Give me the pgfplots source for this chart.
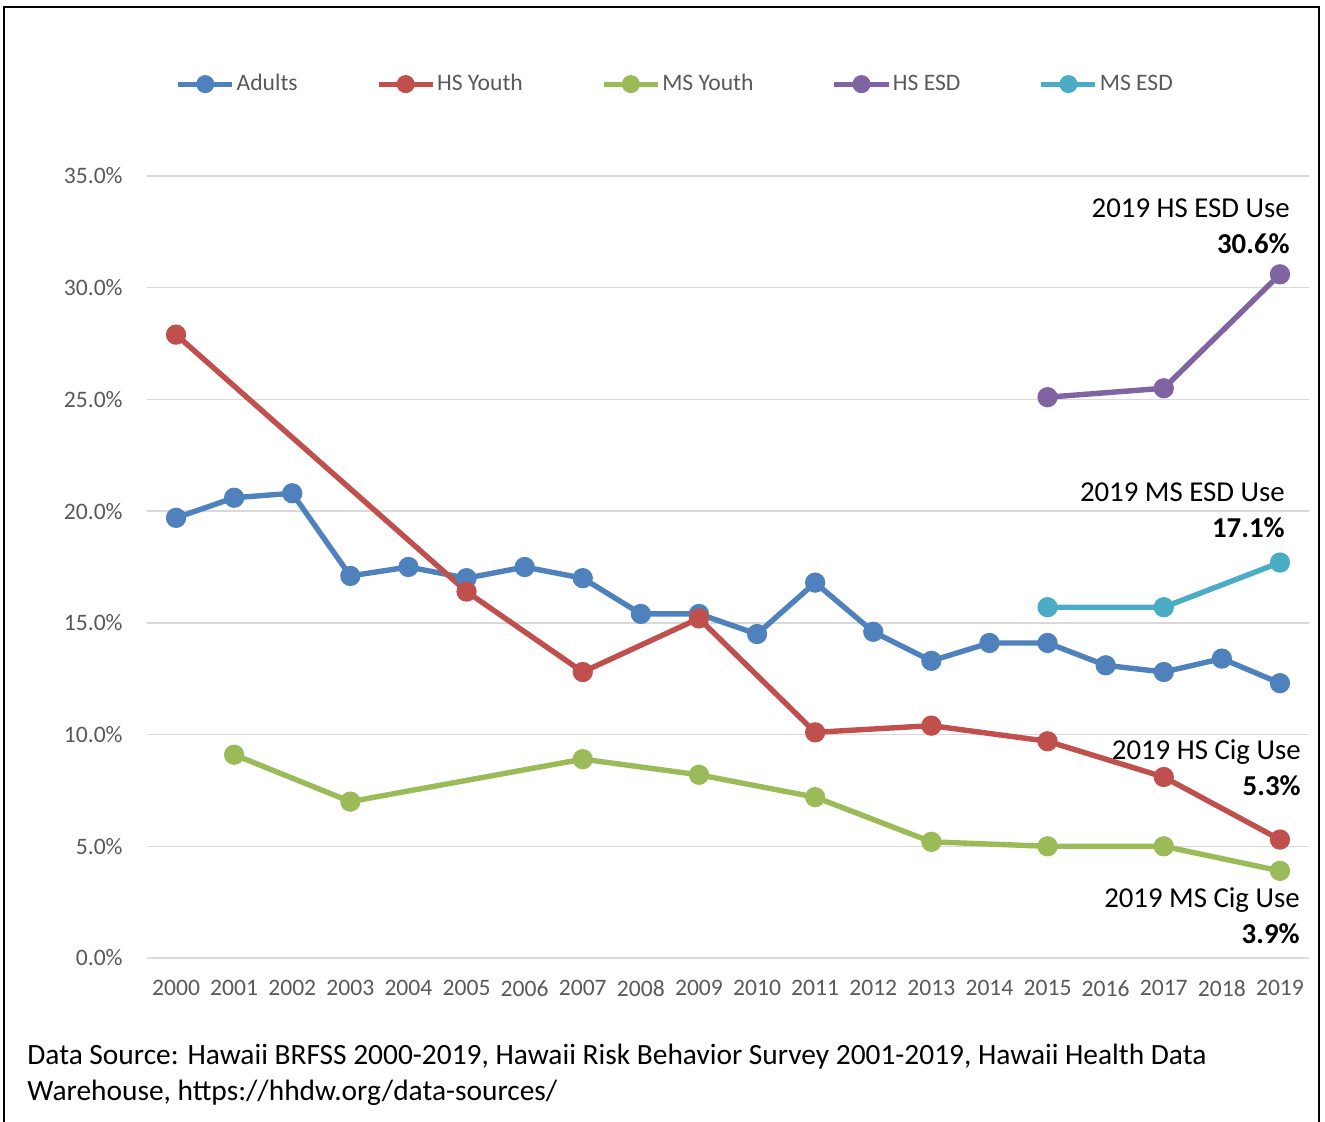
\documentclass[border=0pt]{standalone}
\usepackage{pgfplots}
\pgfplotsset{compat=1.18}
\usepackage{fontspec}
\setmainfont{Carlito}
\definecolor{cA}{HTML}{4F81BD}
\definecolor{cB}{HTML}{C0504D}
\definecolor{cC}{HTML}{9BBB59}
\definecolor{cD}{HTML}{8064A2}
\definecolor{cE}{HTML}{4BACC6}
\definecolor{tickgray}{HTML}{595959}
\definecolor{gridgray}{HTML}{D9D9D9}
\begin{document}
\begin{tikzpicture}
\useasboundingbox (0,0) rectangle (662.5pt,560.5pt);
\draw[line width=1.2pt] (2pt,-2pt) -- (2pt,557pt) -- (659.5pt,557pt) -- (659.5pt,-2pt);
\begin{axis}[
  at={(73.5pt,81.5pt)}, anchor=south west,
  scale only axis, width=581pt, height=391pt,
  xmin=1999.5, xmax=2019.5, ymin=0, ymax=35,
  axis lines=none,
  ymajorgrids, grid style={gridgray, line width=0.75pt},
  xtick={2000,2001,...,2019},
  ytick={0,5,...,35},
  xticklabel style={/pgf/number format/1000 sep={}},
  x tick label style={font=\fontsize{11.8}{14}\selectfont, color=tickgray, inner sep=0pt, anchor=north, yshift=-11pt},
  y tick label style={font=\fontsize{11.8}{14}\selectfont, color=tickgray, inner sep=0pt, anchor=east, xshift=-12pt},
  yticklabel={\pgfmathprintnumber[fixed,fixed zerofill,precision=1]{\tick}\%},
  /pgf/number format/assume math mode=true,
  tick style={draw=none},
  hide x axis=false, hide y axis=false,
  axis line style={draw=none},
  every axis plot/.append style={line width=2.7pt, mark=*, mark size=3.7pt},
  legend columns=5,
  legend style={at={(0.0245,1.1175)}, anchor=west, draw=none, fill=none, inner sep=0pt,
    font=\fontsize{11.8}{14}\selectfont, text=tickgray,
    nodes={inner sep=1pt},
    /tikz/every even column/.append style={column sep=38.3pt}},
  legend image code/.code={\draw[mark repeat=2,mark phase=2,#1,line width=2.4pt, mark size=3.3pt] plot coordinates {(0pt,0pt)(13.5pt,0pt)(27pt,0pt)};},
]
\addplot[cA] coordinates {(2000,19.7)(2001,20.6)(2002,20.8)(2003,17.1)(2004,17.5)(2005,17.0)(2006,17.5)(2007,17.0)(2008,15.4)(2009,15.4)(2010,14.5)(2011,16.8)(2012,14.6)(2013,13.3)(2014,14.1)(2015,14.1)(2016,13.1)(2017,12.8)(2018,13.4)(2019,12.3)};
\addlegendentry{Adults}
\addplot[cB] coordinates {(2000,27.9)(2005,16.4)(2007,12.8)(2009,15.2)(2011,10.1)(2013,10.4)(2015,9.7)(2017,8.1)(2019,5.3)};
\addlegendentry{HS Youth}
\addplot[cC] coordinates {(2001,9.1)(2003,7.0)(2007,8.9)(2009,8.2)(2011,7.2)(2013,5.2)(2015,5.0)(2017,5.0)(2019,3.9)};
\addlegendentry{MS Youth}
\addplot[cD] coordinates {(2015,25.1)(2017,25.5)(2019,30.6)};
\addlegendentry{HS ESD}
\addplot[cE] coordinates {(2015,15.7)(2017,15.7)(2019,17.7)};
\addlegendentry{MS ESD}
\end{axis}
\begin{scope}[every node/.style={inner sep=0pt, anchor=mid east, font=\fontsize{14.4}{17}\selectfont}]
\node at (645pt,454pt) {2019 HS ESD Use};
\node at (645pt,436pt) {\bfseries 30.6\%};
\node at (642.5pt,312pt) {2019 MS ESD Use};
\node at (642.5pt,294pt) {\bfseries 17.1\%};
\node at (650.5pt,183pt) {2019 HS Cig Use};
\node at (650.5pt,165pt) {\bfseries 5.3\%};
\node at (650pt,109pt) {2019 MS Cig Use};
\node at (650pt,91pt) {\bfseries 3.9\%};
\end{scope}
\begin{scope}[every node/.style={inner sep=0pt, anchor=mid west, font=\fontsize{14.7}{17}\selectfont}]
\node at (13.5pt,30.5pt) {Data Source: Hawaii BRFSS 2000-2019, Hawaii Risk Behavior Survey 2001-2019, Hawaii Health Data};
\node at (13.5pt,12.5pt) {Warehouse, https://hhdw.org/data-sources/};
\end{scope}
\end{tikzpicture}
\end{document}
